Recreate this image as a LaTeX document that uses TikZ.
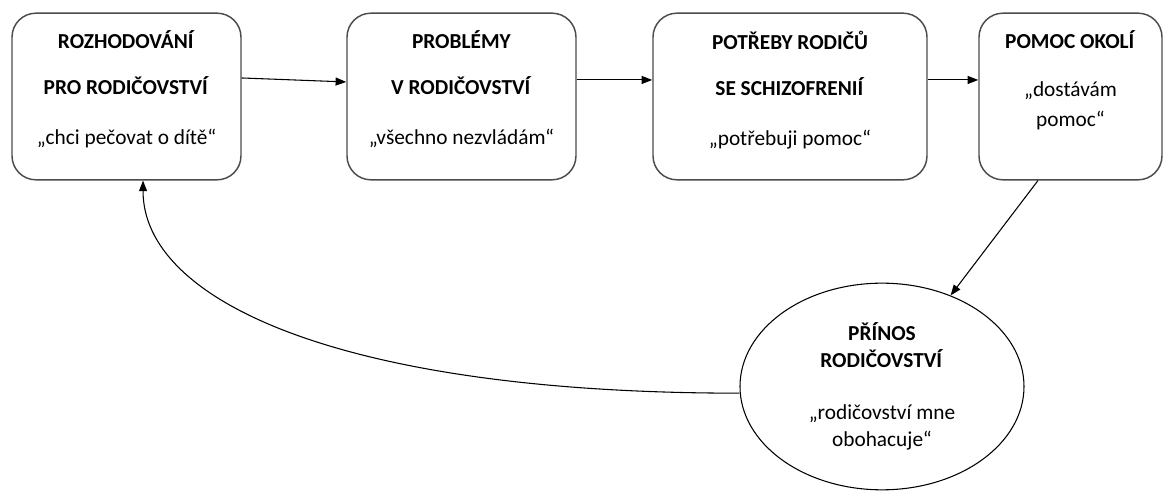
\documentclass[tikz,border=0pt]{standalone}
\usepackage{fontspec}
\setmainfont{Carlito}
\usetikzlibrary{positioning,shapes.geometric,arrows.meta}

\begin{document}
\begin{tikzpicture}[x=0.75pt,y=-0.75pt,every node/.style={font=\fontsize{16}{20.5}\selectfont},
    stage/.style={draw=black!70,line width=1.1pt,rounded corners=18pt,minimum height=125pt,inner sep=0pt},
    stagetext/.style={align=center,inner sep=0pt},
    flow/.style={-{Triangle[length=8pt,width=6pt]},line width=0.8pt}]
    \useasboundingbox (0,0) rectangle (1165,491);
    \node[stage,minimum width=171.75pt] (rozhod) at (126.5,96.5) {};
    \node[stage,minimum width=171.75pt] (problemy) at (461.5,96.5) {};
    \node[stage,minimum width=205.5pt] (potreby) at (790,96.5) {};
    \node[stage,minimum width=137.25pt] (pomoc) at (1070.5,96.5) {};
    \node[stagetext,below=13.5pt of rozhod.north] (rozhodtext) {\textbf{ROZHODOVÁNÍ}\\[14pt]\textbf{PRO RODIČOVSTVÍ}\\[17pt]„chci pečovat o dítě“};
    \node[stagetext,below=13.5pt of problemy.north] (problemytext) {\textbf{PROBLÉMY}\\[14pt]\textbf{V RODIČOVSTVÍ}\\[17pt]„všechno nezvládám“};
    \node[stagetext,below=13.5pt of potreby.north] (potrebytext) {\textbf{POTŘEBY RODIČŮ}\\[14pt]\textbf{SE SCHIZOFRENIÍ}\\[17pt]„potřebuji pomoc“};
    \node[stagetext,below=13.5pt of pomoc.north] (pomoctext) {\textbf{POMOC OKOLÍ}\\[15.5pt]„dostávám\\[2pt]pomoc“};
    \node[draw,ellipse,line width=0.8pt,minimum width=213pt,minimum height=155pt,inner sep=0pt,align=center] (prinos) at (882,386.5) {\textbf{PŘÍNOS}\\\textbf{RODIČOVSTVÍ}\\[18pt]„rodičovství mne\\obohacuje“};
    \draw[flow] ([yshift=13.9pt]rozhod.east) -- ([yshift=10.9pt]problemy.west);
    \draw[flow] ([yshift=12.4pt]problemy.east) -- ([yshift=12.4pt]potreby.west);
    \draw[flow] ([yshift=12.4pt]potreby.east) -- ([yshift=12.4pt]pomoc.west);
    \draw[flow] ([xshift=-24.4pt]pomoc.south) -- (prinos.53);
    \draw[flow] ([yshift=-5pt]prinos.west) .. controls +(-400,0) and +(0,120) .. ([xshift=12.4pt]rozhod.south);
\end{tikzpicture}
\end{document}
